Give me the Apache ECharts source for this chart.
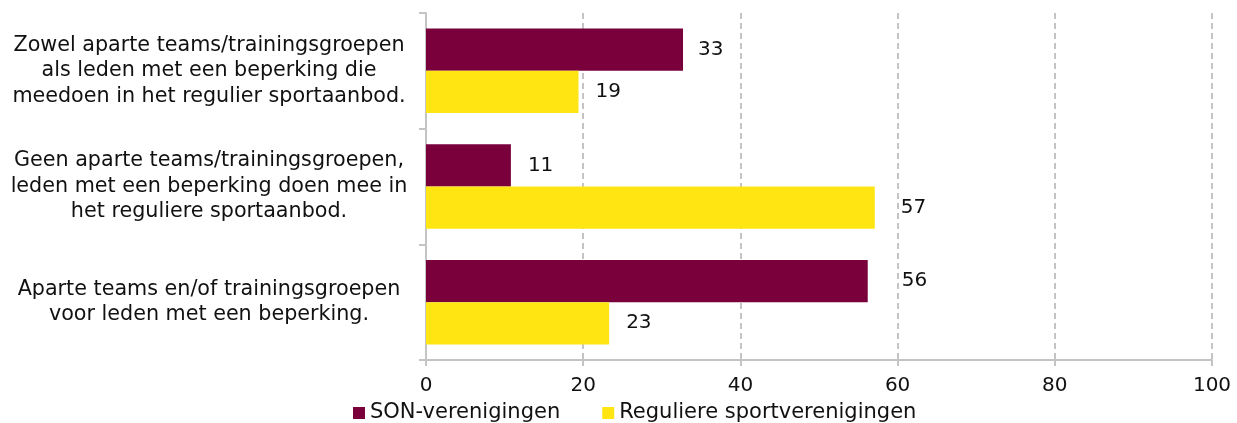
<!DOCTYPE html>
<html><head><meta charset="utf-8">
<script src="https://cdn.jsdelivr.net/npm/echarts@6/dist/echarts.min.js"></script>
<style>html,body{margin:0;padding:0;background:#fff}#c{width:1237px;height:423px}</style>
</head><body><div id="c"></div>
<script>
const categories = [
  "Zowel aparte teams/trainingsgroepen\nals leden met een beperking die\nmeedoen in het regulier sportaanbod.",
  "Geen aparte teams/trainingsgroepen,\nleden met een beperking doen mee in\nhet reguliere sportaanbod.",
  "Aparte teams en/of trainingsgroepen\nvoor leden met een beperking."
];
const seriesNames = ["SON-verenigingen", "Reguliere sportverenigingen"];
const sonValues = [32.7, 10.8, 56.2];
const regValues = [19.4, 57.1, 23.3];
const xTicks = [0, 20, 40, 60, 80, 100];

// label gaps (style only)
const sonGaps = [15, 17, 34];
const regGaps = [17, 26, 17];

const FONT = "DejaVu Sans";
const chart = echarts.init(document.getElementById('c'), null, {renderer: 'canvas'});
function mkData(vals, gaps) {
  return vals.map((v, i) => ({value: v, label: {distance: gaps[i]}}));
}
const lbl = {show: true, position: 'right', color: '#111', fontFamily: FONT, fontSize: 20,
  formatter: p => Math.round(p.value)};
chart.setOption({
  animation: false,
  textStyle: {fontFamily: FONT},
  grid: {left: 426, right: 25, top: 13, bottom: 63, containLabel: false},
  legend: {
    top: 402, left: 353, itemWidth: 12, itemHeight: 12, itemGap: 42, icon: 'rect', padding: 0,
    textStyle: {fontFamily: FONT, fontSize: 21, color: '#111', lineHeight: 22},
    data: seriesNames
  },
  xAxis: {
    type: 'value', min: xTicks[0], max: xTicks[xTicks.length - 1], interval: 20,
    axisLine: {show: true, lineStyle: {color: '#c4c4c4', width: 2}},
    axisTick: {show: true, length: 6, lineStyle: {color: '#c4c4c4', width: 2}},
    axisLabel: {color: '#111', fontFamily: FONT, fontSize: 20, margin: 16},
    splitLine: {show: true, lineStyle: {color: '#c4c4c4', type: [6, 4], width: 2}}
  },
  yAxis: {
    type: 'category', data: categories, inverse: true,
    axisLine: {show: true, lineStyle: {color: '#c4c4c4', width: 2}},
    axisTick: {show: true, length: 7, lineStyle: {color: '#c4c4c4', width: 2}},
    axisLabel: {color: '#111', fontFamily: FONT, fontSize: 20.7, lineHeight: 25.5, margin: 217, align: 'center'}
  },
  series: [
    {name: seriesNames[0], type: 'bar', data: mkData(sonValues, sonGaps), itemStyle: {color: '#7a003c'},
     barCategoryGap: '27%', barGap: '0%', label: lbl},
    {name: seriesNames[1], type: 'bar', data: mkData(regValues, regGaps), itemStyle: {color: '#ffe512'},
     barCategoryGap: '27%', barGap: '0%', label: lbl}
  ]
});
</script></body></html>
